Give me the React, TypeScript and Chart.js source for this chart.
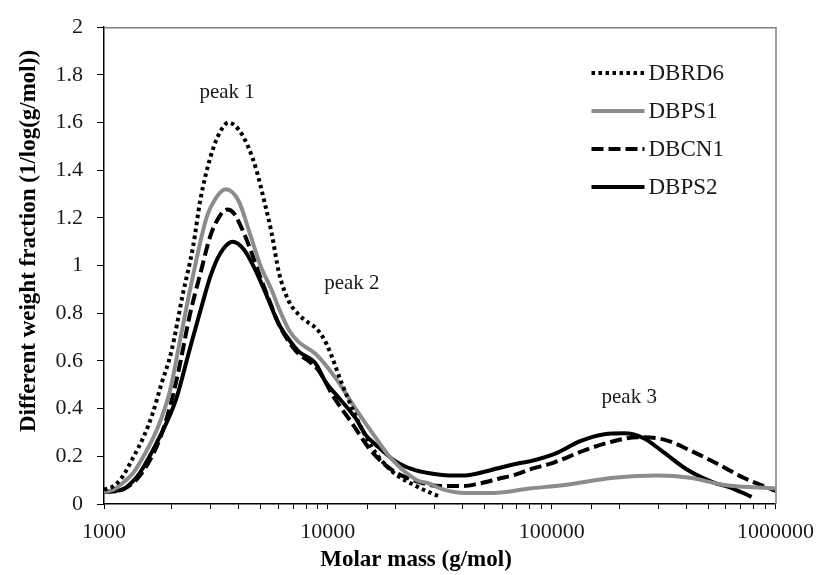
import React, { useEffect, useRef } from 'react';
import { Chart, registerables } from 'chart.js';

Chart.register(...registerables);

// ---------- data ----------
const seriesNames = ['DBRD6', 'DBPS1', 'DBCN1', 'DBPS2'];

const rd6Mass = [1000, 1100, 1200, 1350, 1500, 1650, 1800, 2000, 2250, 2500, 2700, 3000, 3300, 3600, 4000, 4400, 4800, 5200, 5600, 6050, 6700, 7500, 8200, 8800, 9500, 10100, 11500, 13300, 15700, 19200, 25400, 31800];
const rd6Values = [0.06, 0.075, 0.11, 0.195, 0.28, 0.38, 0.5, 0.64, 0.88, 1.08, 1.28, 1.46, 1.56, 1.6, 1.57, 1.5, 1.4, 1.27, 1.14, 0.97, 0.85, 0.79, 0.76, 0.74, 0.7, 0.65, 0.51, 0.37, 0.24, 0.14, 0.07, 0.03];

const ps1Mass = [1000, 1100, 1200, 1350, 1500, 1720, 1965, 2200, 2450, 2870, 3200, 3500, 4000, 4500, 5000, 5600, 6050, 6700, 7400, 8800, 10800, 13300, 16300, 19200, 25000, 28100, 33000, 41000, 53000, 80000, 114000, 190000, 300000, 415000, 590000, 1000000];
const ps1Values = [0.05, 0.06, 0.085, 0.13, 0.2, 0.31, 0.47, 0.7, 0.92, 1.2, 1.29, 1.32, 1.27, 1.13, 1.0, 0.9, 0.82, 0.73, 0.68, 0.63, 0.53, 0.4, 0.28, 0.19, 0.1, 0.087, 0.06, 0.046, 0.046, 0.065, 0.08, 0.11, 0.12, 0.11, 0.08, 0.065];

const cn1Mass = [1000, 1200, 1450, 1770, 2000, 2200, 2400, 2700, 3000, 3300, 3550, 3800, 4200, 4500, 5000, 5500, 6000, 6700, 7400, 8200, 9100, 10600, 12800, 15700, 19500, 25000, 32000, 40000, 47000, 57500, 70000, 80000, 103000, 140000, 183000, 241000, 318000, 415000, 547000, 720000, 940000, 1000000];
const cn1Values = [0.05, 0.06, 0.12, 0.27, 0.43, 0.6, 0.78, 0.97, 1.13, 1.21, 1.235, 1.22, 1.14, 1.07, 0.95, 0.85, 0.76, 0.68, 0.63, 0.6, 0.56, 0.45, 0.34, 0.22, 0.14, 0.095, 0.075, 0.075, 0.085, 0.105, 0.125, 0.145, 0.175, 0.225, 0.26, 0.28, 0.27, 0.225, 0.17, 0.11, 0.065, 0.055];

const ps2Mass = [1000, 1100, 1210, 1345, 1445, 1770, 2100, 2400, 2750, 3000, 3300, 3750, 4200, 4700, 5300, 6000, 6700, 7400, 8800, 9800, 10850, 13300, 14750, 16300, 20000, 24000, 28000, 35000, 41000, 50000, 57500, 70600, 80600, 103000, 135000, 172000, 211000, 259000, 318000, 402000, 530000, 625000, 782000];
const ps2Values = [0.05, 0.055, 0.06, 0.095, 0.13, 0.28, 0.44, 0.64, 0.84, 0.96, 1.05, 1.1, 1.07, 0.99, 0.88, 0.76, 0.69, 0.64, 0.59, 0.51, 0.46, 0.36, 0.29, 0.25, 0.18, 0.145, 0.13, 0.12, 0.12, 0.135, 0.15, 0.17, 0.18, 0.21, 0.265, 0.293, 0.297, 0.275, 0.215, 0.145, 0.09, 0.07, 0.03];

const xTickLabels = ['1000', '10000', '100000', '1000000'];
const yTickStep = 0.2;

const peakLabels = ['peak 1', 'peak 2', 'peak 3'];
const peakMass = [3550, 12800, 222000];
const peakLevel = [1.725, 0.923, 0.445];

const xTitle = 'Molar mass (g/mol)';
const yTitle = 'Different weight fraction (1/log(g/mol))';

const SERIF = "'Times New Roman', 'Liberation Serif', serif";

function toPoints(m: number[], v: number[]) {
  return m.map((x, i) => ({ x, y: v[i] }));
}

const decorPlugin = {
  id: 'decor',
  afterDraw(chart: any) {
    const { ctx, chartArea, scales } = chart;
    const xs = scales.x;
    const ys = scales.y;
    ctx.save();
    // gray top and right border
    ctx.strokeStyle = '#808080';
    ctx.lineWidth = 1.5;
    ctx.setLineDash([]);
    ctx.beginPath();
    ctx.moveTo(chartArea.left, chartArea.top + 0.5);
    ctx.lineTo(chartArea.right + 0.5, chartArea.top + 0.5);
    ctx.lineTo(chartArea.right + 0.5, chartArea.bottom);
    ctx.stroke();

    // peak annotations
    ctx.fillStyle = '#1a1a1a';
    ctx.font = `21px ${SERIF}`;
    ctx.textAlign = 'center';
    ctx.textBaseline = 'middle';
    peakLabels.forEach((t, i) => {
      ctx.fillText(t, xs.getPixelForValue(peakMass[i]), ys.getPixelForValue(peakLevel[i]));
    });

    // legend
    const ds = chart.data.datasets;
    const lx0 = chartArea.right - 184;
    const lx1 = chartArea.right - 131;
    const rows = [73, 111, 149, 187];
    ctx.font = `23px ${SERIF}`;
    ctx.textAlign = 'left';
    ds.forEach((d: any, i: number) => {
      const y = rows[i];
      ctx.strokeStyle = d.borderColor;
      ctx.lineWidth = d.borderWidth;
      ctx.setLineDash(d.borderDash || []);
      ctx.lineCap = 'butt';
      ctx.beginPath();
      ctx.moveTo(lx0, y);
      ctx.lineTo(lx1, y);
      ctx.stroke();
      ctx.fillStyle = '#1a1a1a';
      ctx.fillText(d.label, lx1 + 4, y + 1);
    });
    ctx.setLineDash([]);

    // axis titles
    ctx.fillStyle = '#000';
    ctx.font = `bold 23px ${SERIF}`;
    ctx.textAlign = 'center';
    ctx.textBaseline = 'middle';
    ctx.fillText(xTitle, 416, 560);
    ctx.save();
    ctx.translate(29, 241);
    ctx.rotate(-Math.PI / 2);
    ctx.fillText(yTitle, 0, 0);
    ctx.restore();
    ctx.restore();
  },
};

export default function App() {
  const ref = useRef<HTMLCanvasElement | null>(null);
  useEffect(() => {
    if (!ref.current) return;
    const chart = new Chart(ref.current, {
      type: 'line',
      data: {
        datasets: [
          { label: seriesNames[0], data: toPoints(rd6Mass, rd6Values), borderColor: '#000000', borderWidth: 4, borderDash: [3.5, 3.5], pointRadius: 0, fill: false, cubicInterpolationMode: 'monotone' },
          { label: seriesNames[1], data: toPoints(ps1Mass, ps1Values), borderColor: '#8c8c8c', borderWidth: 4, pointRadius: 0, fill: false, cubicInterpolationMode: 'monotone' },
          { label: seriesNames[2], data: toPoints(cn1Mass, cn1Values), borderColor: '#000000', borderWidth: 4, borderDash: [12, 5], pointRadius: 0, fill: false, cubicInterpolationMode: 'monotone' },
          { label: seriesNames[3], data: toPoints(ps2Mass, ps2Values), borderColor: '#000000', borderWidth: 4, pointRadius: 0, fill: false, cubicInterpolationMode: 'monotone' },
        ],
      },
      options: {
        responsive: true,
        maintainAspectRatio: false,
        animation: false,
        parsing: true,
        layout: { padding: { top: 23, right: 45, left: 0, bottom: 0 } },
        plugins: { legend: { display: false }, tooltip: { enabled: false }, title: { display: false } },
        scales: {
          x: {
            type: 'logarithmic',
            min: 1000,
            max: 1000000,
            afterFit: (s: any) => { s.height = 71; },
            border: { display: true, color: '#000', width: 1.5 },
            grid: { display: true, drawOnChartArea: false, drawTicks: true, tickLength: 5, color: '#000', lineWidth: 1 },
            ticks: {
              autoSkip: false,
              maxRotation: 0,
              padding: 10,
              color: '#1a1a1a',
              font: { family: SERIF, size: 22 },
              callback: (v: any) => {
                const s = String(v);
                return xTickLabels.includes(s) ? s : '';
              },
            },
          },
          y: {
            type: 'linear',
            min: 0,
            max: 2,
            afterFit: (s: any) => { s.width = 104; },
            border: { display: true, color: '#000', width: 1.5 },
            grid: { display: true, drawOnChartArea: false, drawTicks: true, tickLength: 7, color: '#000', lineWidth: 1 },
            ticks: {
              stepSize: yTickStep,
              padding: 14,
              color: '#1a1a1a',
              font: { family: SERIF, size: 22 },
              callback: (v: any) => String(Math.round(Number(v) * 10) / 10),
            },
          },
        },
      },
      plugins: [decorPlugin],
    } as any);
    return () => chart.destroy();
  }, []);
  return (
    <div style={{ position: 'absolute', left: 0, top: 0, width: 824, height: 575, background: '#fff' }}>
      <canvas ref={ref} />
    </div>
  );
}
